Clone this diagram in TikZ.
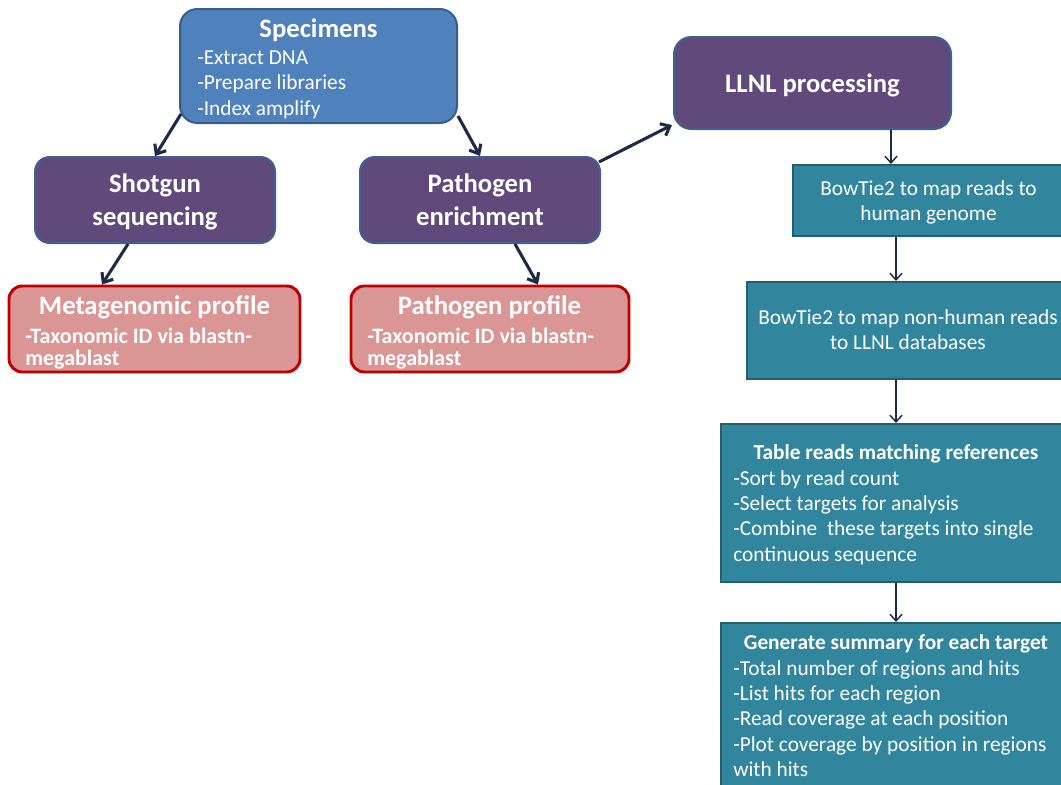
\documentclass[tikz,border=0pt]{standalone}
\usepackage{fontspec}
\setmainfont{Carlito}
\usetikzlibrary{fit,calc,arrows.meta}
\definecolor{bluefill}{HTML}{4F81BD}
\definecolor{blueline}{HTML}{385D8A}
\definecolor{purpfill}{HTML}{604A7B}
\definecolor{purpline}{HTML}{40618E}
\definecolor{pinkfill}{HTML}{D99694}
\definecolor{pinkline}{HTML}{C00000}
\definecolor{tealfill}{HTML}{31859C}
\definecolor{tealline}{HTML}{245F6F}
\definecolor{arrowcol}{HTML}{1B2A45}
\tikzset{
  bluebox/.style={draw=blueline, fill=bluefill, line width=1.5pt, rounded corners=13pt, inner sep=0pt},
  purpbox/.style={draw=purpline, fill=purpfill, line width=1.5pt, rounded corners=11pt, inner sep=0pt},
  pinkbox/.style={draw=pinkline, fill=pinkfill, line width=2.2pt, rounded corners=10pt, inner sep=0pt},
  tealbox/.style={draw=tealline, fill=tealfill, line width=1.5pt, inner sep=0pt},
  ttl/.style={text=white, font=\fontsize{20}{24.4}\selectfont\bfseries, inner sep=0pt, align=center},
  subttl/.style={text=white, font=\fontsize{16}{19.1}\selectfont\bfseries, inner sep=0pt},
  pinksub/.style={text=white, font=\fontsize{16.5}{15.8}\selectfont\bfseries, inner sep=0pt},
  body/.style={text=white, font=\fontsize{16}{19.1}\selectfont, inner sep=0pt},
  bigarrow/.style={draw=arrowcol, line width=2.3pt, -{Straight Barb[length=6pt,width=10pt,line width=2.3pt]}},
  smallarrow/.style={draw=arrowcol, line width=1.1pt, -{Straight Barb[length=5pt,width=9pt,line width=1.1pt]}},
}
\begin{document}
\begin{tikzpicture}[x=0.75pt,y=-0.75pt]
\useasboundingbox (0,0) rectangle (1061,785);
\clip (0,0) rectangle (1061,785);
% boxes
\node[bluebox, fit={(180,9) (457,123)}] (spec) {};
\node[purpbox, fit={(35,157) (275,243)}] (shot) {};
\node[purpbox, fit={(360,157) (600,243)}] (path) {};
\node[pinkbox, fit={(9,286) (300,372)}] (meta) {};
\node[pinkbox, fit={(351,286) (629,372)}] (pprof) {};
\node[purpbox, rounded corners=13pt, fit={(674,37) (951,129)}] (llnl) {};
\node[tealbox, fit={(793,165) (1064,236)}] (bt1) {};
\node[tealbox, fit={(747,282) (1068,379)}] (bt2) {};
\node[tealbox, fit={(721,424) (1070,582)}] (tab) {};
\node[tealbox, fit={(721,623) (1070,800)}] (gen) {};
% texts (multi-line nodes: base = baseline of last line)
\node[ttl, anchor=base] (specT) at (318.5,37) {Specimens};
\node[body, anchor=base west, align=left] (specB) at (197,115) {-Extract DNA\\-Prepare libraries\\-Index amplify};
\node[ttl, anchor=base] (shotT) at (155,225.5) {Shotgun\\sequencing};
\node[ttl, anchor=base] (pathT) at (480,225.5) {Pathogen\\enrichment};
\node[ttl, anchor=base] (metaT) at (154.5,314) {Metagenomic profile};
\node[pinksub, anchor=base west, align=left] (metaB) at (25,365) {-Taxonomic ID via blastn-\\megablast};
\node[ttl, anchor=base] (pprofT) at (489.5,314) {Pathogen profile};
\node[pinksub, anchor=base west, align=left] (pprofB) at (367,365) {-Taxonomic ID via blastn-\\megablast};
\node[ttl, anchor=base] (llnlT) at (812.5,92) {LLNL processing};
\node[body, anchor=base, align=center] (bt1T) at (928.5,220.5) {BowTie2 to map reads to\\human genome};
\node[body, anchor=base, align=center] (bt2T) at (908,349.5) {BowTie2 to map non-human reads\\to LLNL databases};
\node[subttl, anchor=base] (tabT) at (896,459) {Table reads matching references};
\node[body, anchor=base west, align=left] (tabB) at (733,561.4) {-Sort by read count\\-Select targets for analysis\\-Combine\ \ these targets into single\\continuous sequence};
\node[subttl, anchor=base] (genT) at (896,649) {Generate summary for each target};
\node[body, anchor=base west, align=left] (genB) at (733,776.9) {-Total number of regions and hits\\-List hits for each region\\-Read coverage at each position\\-Plot coverage by position in regions\\with hits};
% connectors
\draw[bigarrow] ($(spec.south west)+(2,-10)$) -- (shot.north);
\draw[bigarrow] ($(spec.south east)+(0,-8)$) -- (path.north);
\draw[bigarrow] (shot.south -| 128,0) -- (meta.north -| 102,0);
\draw[bigarrow] (path.south -| 515,0) -- (pprof.north -| 538,0);
\draw[bigarrow] ($(path.north east)+(-2,6)$) -- ($(llnl.south west)+(-1,-5)$);
\draw[smallarrow] (llnl.south -| 891,0) -- (bt1.north -| 891,0);
\draw[smallarrow] (bt1.south -| 896,0) -- (bt2.north -| 896,0);
\draw[smallarrow] (bt2.south -| 896,0) -- (tab.north -| 896,0);
\draw[smallarrow] (tab.south -| 896,0) -- (gen.north -| 896,0);
\end{tikzpicture}
\end{document}
